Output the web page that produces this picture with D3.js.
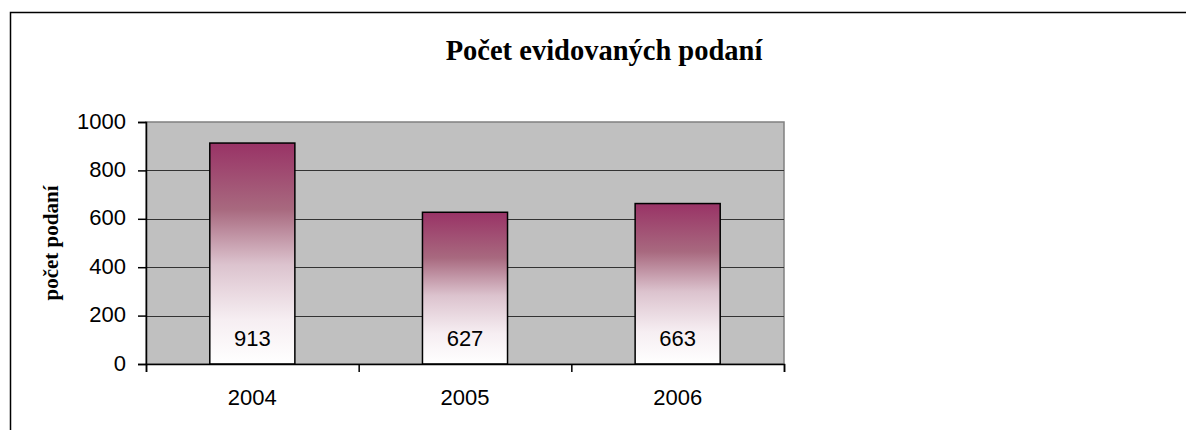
<!DOCTYPE html>
<html>
<head>
<meta charset="utf-8">
<script src="https://cdn.jsdelivr.net/npm/d3@7"></script>
<style>
  body { margin: 0; background: white; }
  svg { display: block; }
</style>
</head>
<body>
<div id="chart"></div>
<script>
// data
const years = ["2004", "2005", "2006"];
const podani = [913, 627, 663];
const yTicks = [0, 200, 400, 600, 800, 1000];
const title = "Počet evidovaných podaní";
const yTitle = "počet podaní";

const W = 1186, H = 430;
const plot = { left: 146, top: 122, right: 784, bottom: 364 };
const sans = "Liberation Sans, Arial, sans-serif";
const serif = "Liberation Serif, Times New Roman, serif";

const svg = d3.select("#chart")
  .append("svg")
  .attr("width", W)
  .attr("height", H)
;

// chart area border (runs off the right and bottom edge)
svg.append("rect")
  .attr("x", 10.5).attr("y", 12.5)
  .attr("width", 1300).attr("height", 600)
  .attr("fill", "white")
  .attr("stroke", "#000")
  .attr("stroke-width", 1.5)
;

const x = d3.scaleBand()
  .domain(years)
  .range([plot.left, plot.right])
  .paddingInner(0.6)
  .paddingOuter(0.3)
;

const y = d3.scaleLinear()
  .domain([0, 1000])
  .range([plot.bottom, plot.top])
;

// gradient for bars
const defs = svg.append("defs");
const grad = defs.append("linearGradient")
  .attr("id", "barGrad")
  .attr("x1", 0).attr("y1", 0).attr("x2", 0).attr("y2", 1)
;
[[0, "#993366"], [0.3, "#a8697f"], [0.55, "#dcc3ce"], [0.8, "#f6eef2"], [1, "#ffffff"]]
  .forEach(s => grad.append("stop").attr("offset", s[0]).attr("stop-color", s[1]));

// plot area
svg.append("rect")
  .attr("x", plot.left).attr("y", plot.top)
  .attr("width", plot.right - plot.left)
  .attr("height", plot.bottom - plot.top)
  .attr("fill", "#c0c0c0")
  .attr("stroke", "#808080")
  .attr("stroke-width", 1.5)
;

// gridlines
svg.append("g")
  .selectAll("line")
  .data(yTicks.filter(d => d > 0 && d < 1000))
  .enter()
  .append("line")
  .attr("x1", plot.left).attr("x2", plot.right)
  .attr("y1", d => Math.round(y(d)) + 0.5)
  .attr("y2", d => Math.round(y(d)) + 0.5)
  .attr("stroke", "#333")
  .attr("stroke-width", 1.2)
;

// bars
svg.append("g")
  .selectAll("rect")
  .data(podani)
  .enter()
  .append("rect")
  .attr("x", (d, i) => x(years[i]))
  .attr("y", d => y(d))
  .attr("width", x.bandwidth())
  .attr("height", d => y(0) - y(d))
  .attr("fill", "url(#barGrad)")
  .attr("stroke", "#000")
  .attr("stroke-width", 1.5)
;

// value labels
svg.append("g")
  .selectAll("text")
  .data(podani)
  .enter()
  .append("text")
  .attr("x", (d, i) => x(years[i]) + x.bandwidth() / 2)
  .attr("y", plot.bottom - 18)
  .attr("text-anchor", "middle")
  .attr("font-family", sans)
  .attr("font-size", 22)
  .attr("fill", "#000")
  .text(d => d)
;

// y axis
const yAxis = svg.append("g")
  .attr("transform", `translate(${plot.left},0)`)
  .call(d3.axisLeft(y).tickValues(yTicks).tickSize(8).tickPadding(12).tickFormat(d3.format("d")))
;
yAxis.select(".domain").attr("stroke", "#000").attr("stroke-width", 1.5);
yAxis.selectAll(".tick line").attr("stroke", "#000").attr("stroke-width", 1.5);
yAxis.selectAll(".tick text")
  .attr("font-family", sans)
  .attr("font-size", 22)
  .attr("dy", "0.28em")
  .attr("fill", "#000")
;

// x axis with ticks between categories
const xEdges = d3.scaleLinear().domain([0, years.length]).range([plot.left, plot.right]);
const xAxis = svg.append("g")
  .attr("transform", `translate(0,${plot.bottom})`)
  .call(d3.axisBottom(xEdges).tickValues(d3.range(0, years.length + 1)).tickSize(8).tickFormat(""))
;
xAxis.select(".domain").attr("stroke", "#000").attr("stroke-width", 1.5);
xAxis.selectAll(".tick line").attr("stroke", "#000").attr("stroke-width", 1.5);

svg.append("g")
  .selectAll("text")
  .data(years)
  .enter()
  .append("text")
  .attr("x", d => x(d) + x.bandwidth() / 2)
  .attr("y", plot.bottom + 41)
  .attr("text-anchor", "middle")
  .attr("font-family", sans)
  .attr("font-size", 22)
  .attr("fill", "#000")
  .text(d => d)
;

// titles
svg.append("text")
  .attr("x", 604)
  .attr("y", 60)
  .attr("text-anchor", "middle")
  .attr("font-family", serif)
  .attr("font-weight", "bold")
  .attr("font-size", 28.5)
  .attr("fill", "#000")
  .text(title)
;

svg.append("text")
  .attr("transform", `translate(58,${(plot.top + plot.bottom) / 2}) rotate(-90)`)
  .attr("text-anchor", "middle")
  .attr("font-family", serif)
  .attr("font-weight", "bold")
  .attr("font-size", 21)
  .attr("fill", "#000")
  .text(yTitle)
;
</script>
</body>
</html>
